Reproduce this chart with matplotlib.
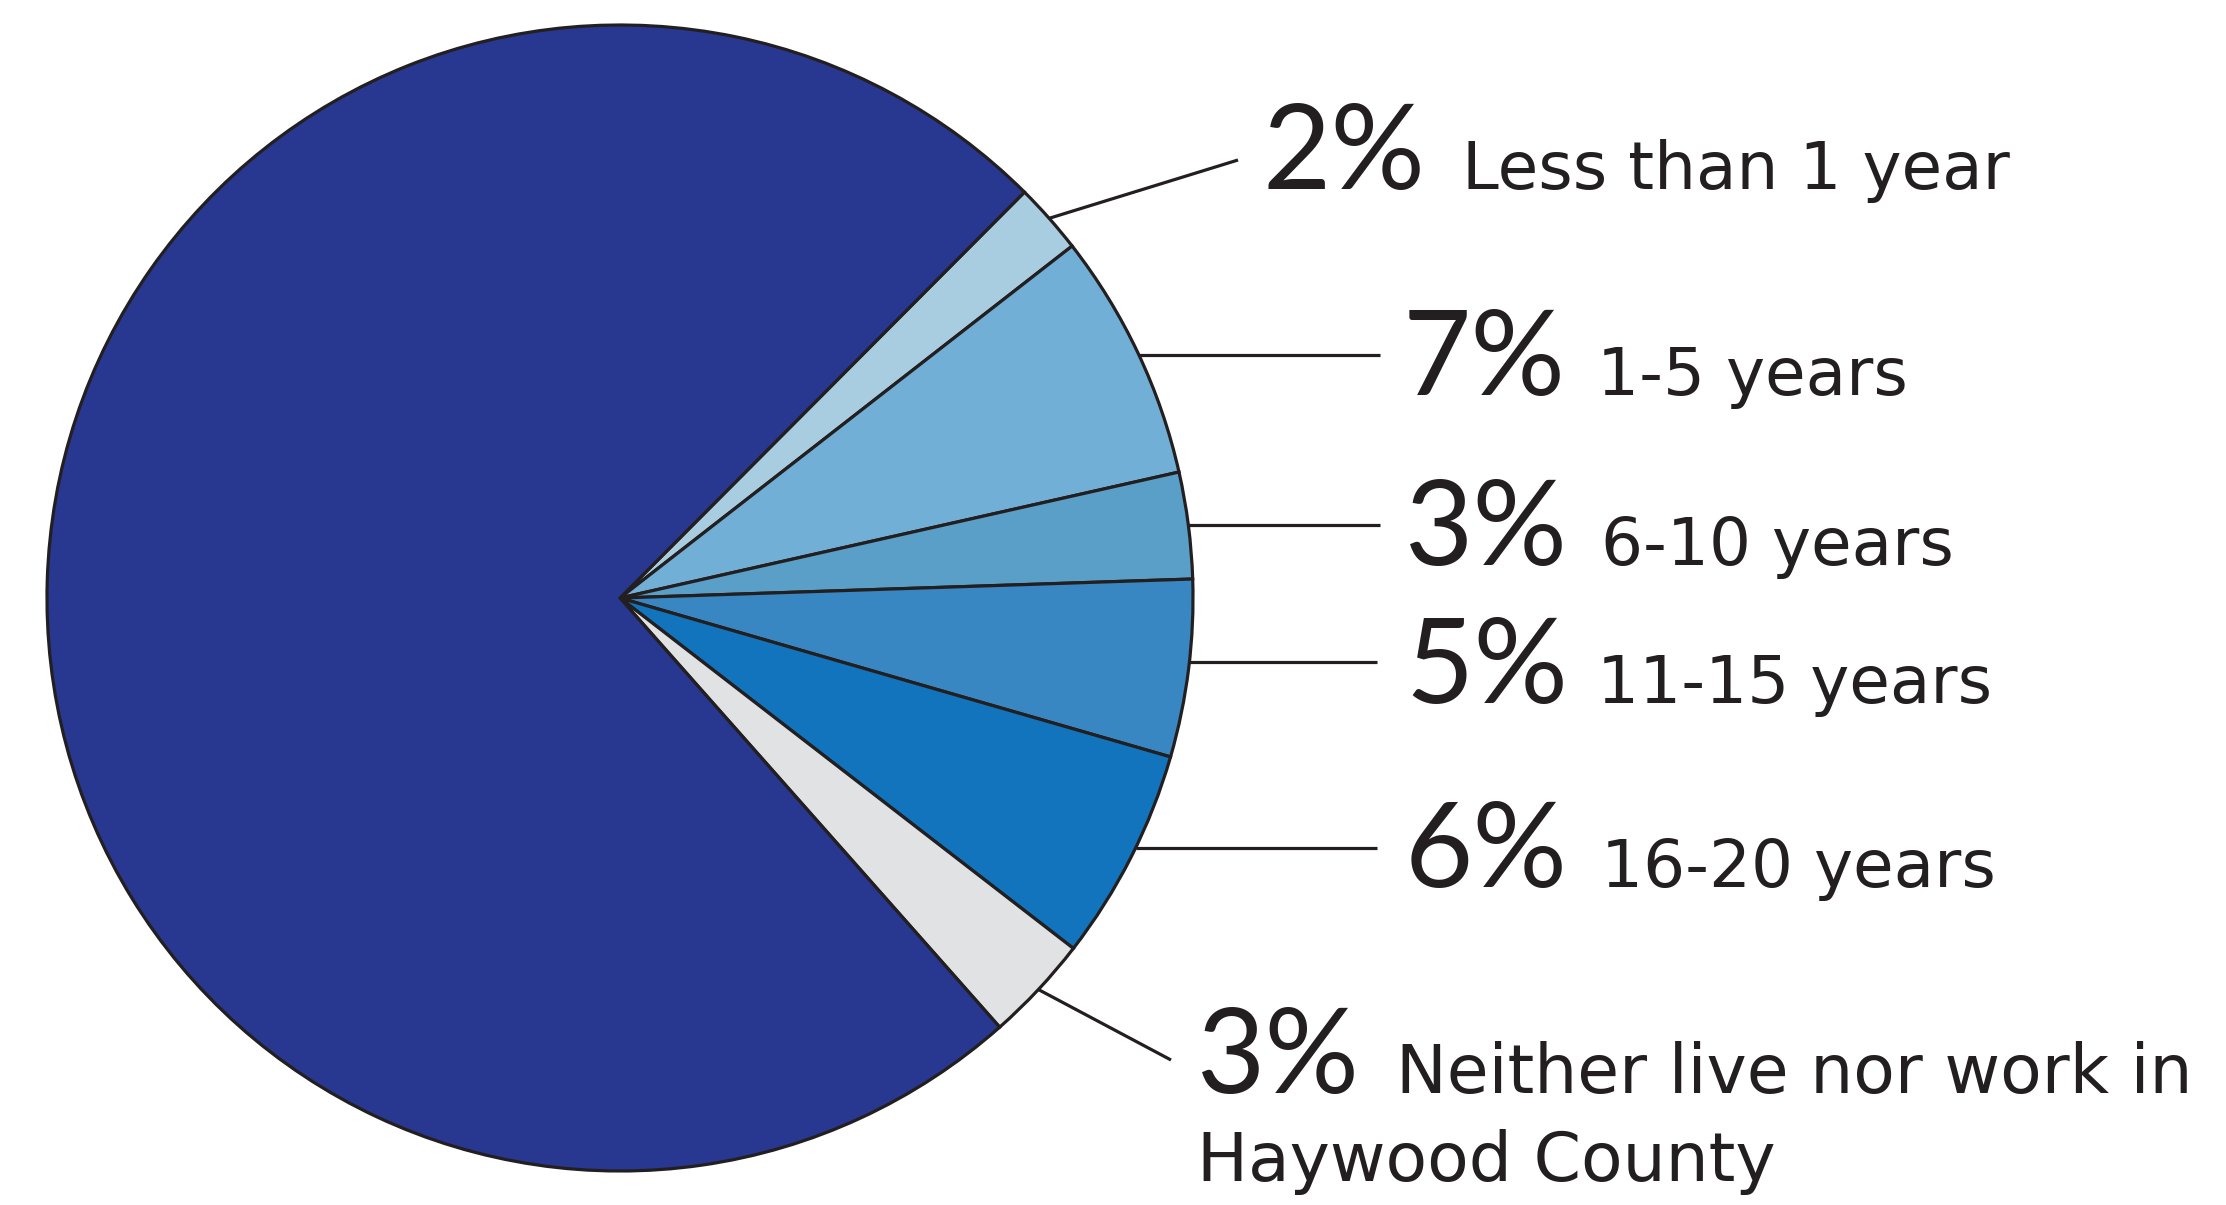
import numpy as np
import matplotlib.pyplot as plt

# tenure categories, clockwise from the top-right, big slice last
categorias = ["Less than 1 year", "1-5 years", "6-10 years", "11-15 years",
              "16-20 years", "Neither live nor work in\nHaywood County", "Other"]
porcentajes = [2, 7, 3, 5, 6, 3, 74]
colores = ["#A8CDE0", "#72AFD6", "#5A9FC8", "#3887C3", "#1174BC", "#E1E2E4", "#283790"]

tinta = "#231F20"
W, H = 2226, 1205
cx, cy, r = 620, H - 598, 573
inicio = 45.1

fig = plt.figure(figsize=(W / 100, H / 100), dpi=100)
ax = fig.add_axes([0, 0, 1, 1])
ax.pie(porcentajes, colors=colores, center=(cx, cy), radius=r,
       startangle=inicio, counterclock=False,
       wedgeprops=dict(edgecolor=tinta, linewidth=2.3))
ax.set_xlim(0, W)
ax.set_ylim(0, H)
ax.set_aspect("equal")
ax.axis("off")

# layout (pixels from top-left): end of leader, y of flat leaders, % x, label x, baseline
fin_linea = [(1238, 160), (1380, 355), (1380, 525), (1377, 662), (1377, 848), (1171, 1060)]
plana = [False, True, True, True, True, False]
x_pct = [1262, 1403, 1405, 1405, 1405, 1197]
x_txt = [1462, 1597, 1601, 1597, 1601, 1396]
base = [189, 395, 565, 703, 887, 1093]

f_pct = "Lato"
f_txt = "DejaVu Sans"
acum = 0
for i in range(6):
    mid = np.deg2rad(inicio - 360 * (acum + porcentajes[i] / 2) / 100)
    acum += porcentajes[i]
    xe, ye = fin_linea[i]
    ye = H - ye
    if plana[i]:
        y0 = ye
        x0 = cx + np.sqrt(r ** 2 - (y0 - cy) ** 2)
    else:
        x0 = cx + r * np.cos(mid)
        y0 = cy + r * np.sin(mid)
    ax.plot([x0, xe], [y0, ye], color=tinta, lw=2.3, solid_capstyle="butt")
    ax.text(x_pct[i], H - base[i], f"{porcentajes[i]}%", fontsize=85,
            family=f_pct, color=tinta, ha="left", va="baseline")
    if i < 5:
        ax.text(x_txt[i], H - base[i], categorias[i], fontsize=47.5,
                family=f_txt, color=tinta, ha="left", va="baseline")
    else:
        l1, l2 = categorias[i].split("\n")
        ax.text(x_txt[i], H - base[i], l1, fontsize=49,
                family=f_txt, color=tinta, ha="left", va="baseline")
        ax.text(x_pct[i], H - 1181, l2, fontsize=49,
                family=f_txt, color=tinta, ha="left", va="baseline")

fig.savefig("out.png", dpi=100, facecolor="white")
